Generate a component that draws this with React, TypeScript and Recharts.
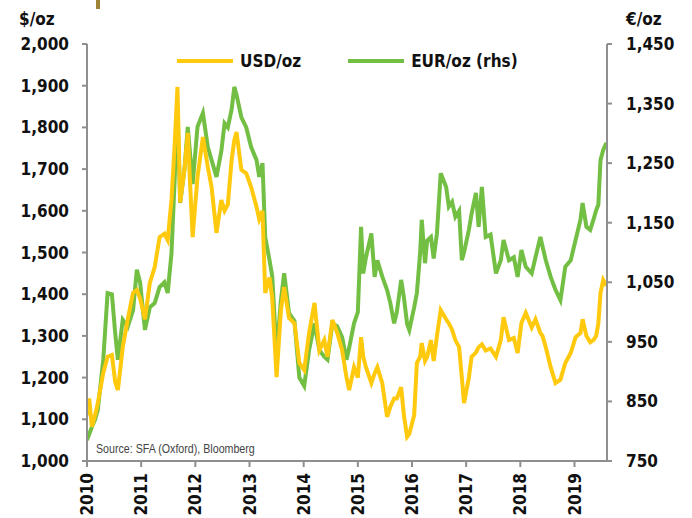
import React from "react";
import { LineChart, Line, XAxis, YAxis } from "recharts";

// decimal year of each reading
const dates = [
  2010.0, 2010.04, 2010.09, 2010.15, 2010.2, 2010.3, 2010.38, 2010.46, 2010.52, 2010.57,
  2010.66, 2010.75, 2010.85, 2010.92, 2010.98, 2011.07, 2011.16, 2011.25, 2011.34, 2011.43,
  2011.49, 2011.56, 2011.62, 2011.67, 2011.72, 2011.8, 2011.86, 2011.95, 2012.04, 2012.14,
  2012.23, 2012.3, 2012.39, 2012.48, 2012.54, 2012.6, 2012.67, 2012.72, 2012.76, 2012.85,
  2012.94, 2013.03, 2013.13, 2013.18, 2013.24, 2013.29, 2013.37, 2013.42, 2013.5, 2013.58,
  2013.64, 2013.73, 2013.83, 2013.92, 2014.01, 2014.1, 2014.2, 2014.29, 2014.38, 2014.44,
  2014.53, 2014.62, 2014.71, 2014.79, 2014.84, 2014.93, 2015.0, 2015.06, 2015.1, 2015.15,
  2015.25, 2015.31, 2015.36, 2015.45, 2015.54, 2015.6, 2015.67, 2015.72, 2015.8, 2015.85,
  2015.91, 2015.95, 2016.04, 2016.09, 2016.15, 2016.18, 2016.24, 2016.28, 2016.35, 2016.4,
  2016.46, 2016.53, 2016.63, 2016.68, 2016.74, 2016.8, 2016.87, 2016.92, 2016.96, 2017.05,
  2017.1, 2017.18, 2017.23, 2017.29, 2017.36, 2017.45, 2017.55, 2017.64, 2017.69, 2017.79,
  2017.88, 2017.95, 2018.02, 2018.1, 2018.21, 2018.28, 2018.37, 2018.41, 2018.47, 2018.56,
  2018.65, 2018.74, 2018.83, 2018.93, 2019.02, 2019.11, 2019.15, 2019.22, 2019.29, 2019.35,
  2019.4, 2019.44, 2019.48, 2019.53, 2019.59,
];

const usdPerOz = [
  1110, 1150, 1082, 1110, 1139, 1211, 1250, 1254, 1190, 1170,
  1273, 1338, 1403, 1410, 1390, 1340, 1427, 1465, 1537, 1545,
  1530, 1626, 1762, 1897, 1620, 1700, 1787, 1537, 1681, 1777,
  1705, 1657, 1547, 1626, 1600, 1615, 1722, 1770, 1789, 1698,
  1690, 1657, 1609, 1580, 1600, 1403, 1440, 1390, 1201, 1362,
  1417, 1343, 1330, 1235, 1218, 1307, 1379, 1266, 1290, 1250,
  1338, 1307, 1266, 1201, 1170, 1225, 1200, 1297, 1250, 1225,
  1187, 1210, 1225, 1187, 1106, 1130, 1150, 1150, 1177, 1110,
  1058, 1065, 1110, 1235, 1250, 1283, 1240, 1250, 1290, 1240,
  1300, 1362, 1340, 1330, 1315, 1290, 1273, 1200, 1139, 1200,
  1250, 1260, 1273, 1280, 1265, 1270, 1250, 1290, 1345, 1290,
  1295, 1259, 1331, 1355, 1320, 1340, 1307, 1300, 1273, 1225,
  1187, 1195, 1235, 1259, 1297, 1307, 1340, 1300, 1285, 1290,
  1300, 1330, 1403, 1434, 1420,
];

const eurPerOz = [
  785, 795, 807, 820, 836, 920, 1032, 1030, 965, 920,
  987, 975, 1003, 1071, 1050, 970, 1008, 1015, 1042, 1050,
  1032, 1099, 1227, 1345, 1183, 1240, 1311, 1215, 1311, 1334,
  1277, 1255, 1227, 1270, 1317, 1310, 1340, 1378, 1365, 1327,
  1310, 1277, 1255, 1227, 1250, 1126, 1087, 1060, 930, 1020,
  1065, 998, 985, 890, 876, 936, 981, 936, 925, 920,
  981, 976, 958, 920, 940, 981, 1000, 1143, 1065, 1092,
  1132, 1059, 1087, 1060, 1037, 1015, 981, 1000, 1054, 1025,
  980, 970, 1008, 1032, 1099, 1155, 1082, 1120, 1126, 1090,
  1132, 1233, 1210, 1177, 1185, 1160, 1170, 1087, 1100, 1138,
  1165, 1200, 1143, 1210, 1126, 1130, 1065, 1087, 1121, 1087,
  1092, 1059, 1104, 1076, 1065, 1092, 1126, 1110, 1087, 1059,
  1037, 1020, 1076, 1087, 1121, 1155, 1183, 1143, 1138, 1155,
  1171, 1180, 1255, 1272, 1284,
];

const yearTicks = [2010, 2011, 2012, 2013, 2014, 2015, 2016, 2017, 2018, 2019];
const usdTicks = [1000, 1100, 1200, 1300, 1400, 1500, 1600, 1700, 1800, 1900, 2000];
const eurTicks = [750, 850, 950, 1050, 1150, 1250, 1350, 1450];

const data = dates.map((t, i) => ({ t, usd: usdPerOz[i], eur: eurPerOz[i] }));

const FONT = "'DejaVu Sans Condensed', 'DejaVu Sans', sans-serif";
const AXIS = "#8f8f8f";
const YELLOW = "#ffc90e";
const GREEN = "#72bf44";

const fmt = (v: number) => v.toLocaleString("en-US");

const YearTick = (props: any) => {
  const { x, y, payload } = props;
  return (
    <text
      x={x}
      y={y + 4}
      transform={`rotate(-90, ${x}, ${y + 4})`}
      textAnchor="end"
      dominantBaseline="central"
      fontFamily={FONT}
      fontWeight="bold"
      fontSize={17}
      fill="#111"
    >
      {payload.value}
    </text>
  );
};

const LeftTick = (props: any) => {
  const { x, y, payload } = props;
  return (
    <g>
      <line x1={x - 5} y1={y} x2={x} y2={y} stroke={AXIS} strokeWidth={2} />
      <text
        x={x - 18}
        y={y}
        textAnchor="end"
        dominantBaseline="central"
        fontFamily={FONT}
        fontWeight="bold"
        fontSize={17}
        fill="#111"
      >
        {fmt(payload.value)}
      </text>
    </g>
  );
};

const RightTick = (props: any) => {
  const { x, y, payload } = props;
  return (
    <g>
      <line x1={x} y1={y} x2={x + 5} y2={y} stroke={AXIS} strokeWidth={2} />
      <text
        x={x + 19}
        y={y}
        textAnchor="start"
        dominantBaseline="central"
        fontFamily={FONT}
        fontWeight="bold"
        fontSize={17}
        fill="#111"
      >
        {fmt(payload.value)}
      </text>
    </g>
  );
};

const legendItems = [
  { label: "USD/oz", color: YELLOW },
  { label: "EUR/oz (rhs)", color: GREEN },
];

export default function App() {
  const label = { position: "absolute" as const, fontFamily: FONT, fontWeight: "bold" as const, fontSize: 17, color: "#111" };
  return (
    <div style={{ position: "absolute", left: 0, top: 0, width: 692, height: 518, background: "#fff" }}>
      <div style={{ position: "absolute", left: 96, top: 0, width: 4, height: 9, background: "#a08436" }} />
      <div style={{ ...label, left: 19, top: 9 }}>$/oz</div>
      <div style={{ ...label, left: 626, top: 9 }}>€/oz</div>
      <LineChart width={692} height={518} data={data} margin={{ top: 44, right: 20, left: 20, bottom: 2 }}>
        <XAxis
          dataKey="t"
          type="number"
          domain={[2010, 2019.6]}
          ticks={yearTicks}
          allowDataOverflow
          height={55}
          tick={<YearTick />}
          tickSize={6}
          tickLine={{ stroke: AXIS, strokeWidth: 2 }}
          axisLine={{ stroke: AXIS, strokeWidth: 2 }}
        />
        <YAxis
          yAxisId="usd"
          orientation="left"
          domain={[1000, 2000]}
          ticks={usdTicks}
          width={67}
          tickSize={0}
          tickMargin={0}
          tickLine={false}
          tick={<LeftTick />}
          axisLine={{ stroke: AXIS, strokeWidth: 2 }}
          interval={0}
        />
        <YAxis
          yAxisId="eur"
          orientation="right"
          domain={[750, 1450]}
          ticks={eurTicks}
          width={65}
          tickSize={0}
          tickMargin={0}
          tickLine={false}
          tick={<RightTick />}
          axisLine={{ stroke: AXIS, strokeWidth: 2 }}
          interval={0}
        />
        <Line yAxisId="eur" dataKey="eur" stroke={GREEN} strokeWidth={4} dot={false} isAnimationActive={false} />
        <Line yAxisId="usd" dataKey="usd" stroke={YELLOW} strokeWidth={4} dot={false} isAnimationActive={false} />
      </LineChart>
      <div style={{ position: "absolute", left: 177, top: 51, display: "flex", alignItems: "center", fontFamily: FONT, fontWeight: "bold", fontSize: 17, color: "#111" }}>
        {legendItems.map((it) => (
          <div key={it.label} style={{ display: "flex", alignItems: "center", marginRight: 47 }}>
            <div style={{ width: 56, height: 4, background: it.color, marginRight: 7 }} />
            <span>{it.label}</span>
          </div>
        ))}
      </div>
      <div
        style={{
          position: "absolute",
          left: 96,
          top: 441,
          fontFamily: "'Liberation Sans', Arial, sans-serif",
          fontSize: 13,
          color: "#444",
          transform: "scaleX(0.82)",
          transformOrigin: "left top",
          whiteSpace: "nowrap",
        }}
      >
        Source: SFA (Oxford), Bloomberg
      </div>
    </div>
  );
}
